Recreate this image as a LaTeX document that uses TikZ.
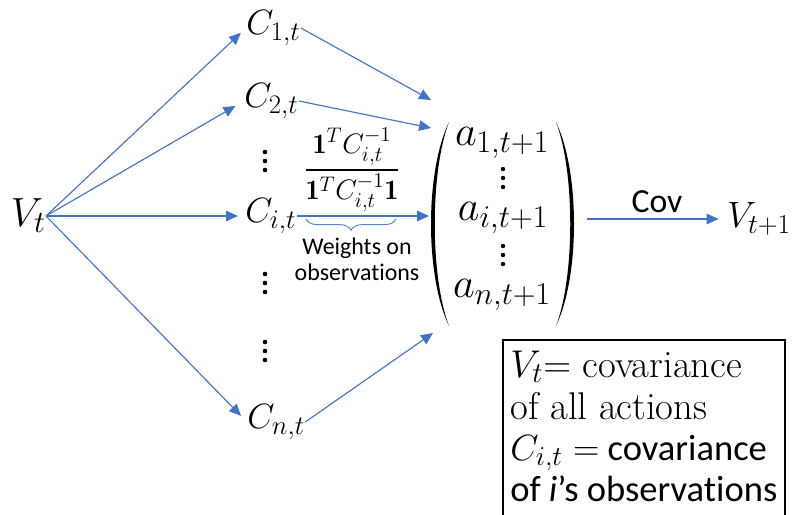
\RequirePackage{fix-cm}
\documentclass[tikz,border=0pt]{standalone}
\usepackage{amsmath}
\usepackage{fontspec}
\newfontfamily\carl[Ligatures=NoCommon]{Carlito}
\DeclareMathSizes{25}{25}{19}{14}
\DeclareMathSizes{26}{26}{19.5}{14}
\DeclareMathSizes{29}{29}{22}{16}
\DeclareMathSizes{30}{30}{22.5}{16}
\DeclareMathSizes{27.5}{27.5}{20.5}{15}
\DeclareMathSizes{20}{20}{15}{11}
\usetikzlibrary{arrows.meta,decorations.pathreplacing}
\definecolor{arrowblue}{HTML}{4472C4}
\definecolor{lineblue}{HTML}{5B86CC}
\begin{document}
\begin{tikzpicture}[x=0.025cm,y=-0.025cm,
  big/.style={inner sep=0pt,font=\fontsize{25}{30}\selectfont},
  entry/.style={inner sep=0pt,font=\fontsize{30}{32}\selectfont},
  conn/.style={draw=lineblue,line width=0.8pt,-{Triangle[length=8.5pt,width=7.5pt,fill=arrowblue]},arrowblue},
  sanslab/.style={inner sep=0pt,font=\carl\fontsize{17}{18.5}\selectfont,align=center},
  boxserif/.style={inner sep=0pt,anchor=base west,font=\fontsize{27.5}{29}\selectfont},
  boxsans/.style={inner sep=0pt,anchor=base west,font=\carl\fontsize{26}{29}\selectfont}]
\useasboundingbox (0,0) rectangle (796,514);

% nodes
\node[inner sep=0pt,font=\fontsize{29}{32}\selectfont,anchor=east] (V) at (46,216) {$V_t$};
\node[big,anchor=west] (C1) at (246,28) {$C_{1,t}$};
\node[big,anchor=west] (C2) at (244,101) {$C_{2,t}$};
\node[big,anchor=west] (Ci) at (245,216) {$C_{i,t}$};
\node[big,anchor=west] (Cn) at (247,422) {$C_{n,t}$};

% vertical dots of the C column
\foreach \yc in {161,283,351}
  \foreach \dy in {-9,0,9}
    \fill (265,\yc+\dy) circle (2.3);

% vector entries
\node[entry] (a1) at (502,143) {$a_{1,t+1}$};
\node[entry] (ai) at (503,218) {$a_{i,t+1}$};
\node[entry] (an) at (502,295) {$a_{n,t+1}$};
\foreach \yc in {178,255}
  \foreach \dy in {-9,0,9}
    \fill (503,\yc+\dy) circle (2.2);
% parentheses
\fill (449,122) .. controls (425,172) and (425,276) .. (449,326)
      .. controls (430,276) and (430,172) .. (449,122) -- cycle;
\fill (556,122) .. controls (580,172) and (580,276) .. (556,326)
      .. controls (575,276) and (575,172) .. (556,122) -- cycle;

\node[inner sep=0pt,font=\fontsize{26}{30}\selectfont,anchor=west] (V1) at (727,219) {$V_{t+1}$};

\node[inner sep=0pt,font=\fontsize{20}{22}\selectfont] (frac) at (352,170)
  {$\dfrac{\mathbf{1}^T C_{i,t}^{-1}}{\mathbf{1}^T C_{i,t}^{-1}\mathbf{1}}$};
\node[sanslab] (wlab) at (357,259) {Weights on\\observations};

% free ends of connectors at the vector
\coordinate (p1) at (431,100);
\coordinate (p2) at (431,128);
\coordinate (pi) at (429,216);
\coordinate (pn) at (433,333);
\coordinate (cs) at (587,219);

% connectors
\draw[conn,shorten >=5pt] (V.east) -- (C1.west);
\draw[conn,shorten >=7pt] (V.east) -- (C2.west);
\draw[conn,shorten >=5pt] (V.east) -- (Ci.west);
\draw[conn,shorten >=6pt] (V.east) -- (Cn.west);
\draw[conn] (C1.east) -- (p1);
\draw[conn] (C2.east) -- (p2);
\draw[conn] (Ci.east) -- (pi);
\draw[conn] (Cn.east) -- (pn);
\draw[conn,shorten >=6pt] (cs) -- (V1.west)
  node[midway,above=4pt,inner sep=0pt,font=\carl\fontsize{24}{26}\selectfont,text=black] (cov) {Cov};

% brace
\coordinate (b1) at (306,219);
\coordinate (b2) at (396,219);
\draw[lineblue,line width=0.7pt,decorate,decoration={brace,mirror,amplitude=8pt}] (b1) -- (b2);

% legend box
\draw[line width=1pt] (503,520) -- (503,340) -- (785,340) -- (785,520);
\node[boxserif] (l1) at (510,377) {${V_t}{=}$ covariance};
\node[boxserif] (l2) at (510,419) {of all actions};
\node[boxsans] (l3) at (510,460) {$C_{i,t} =$ covariance};
\node[boxsans] (l4) at (510,501) {of \textit{i}’s observations};
\end{tikzpicture}
\end{document}
